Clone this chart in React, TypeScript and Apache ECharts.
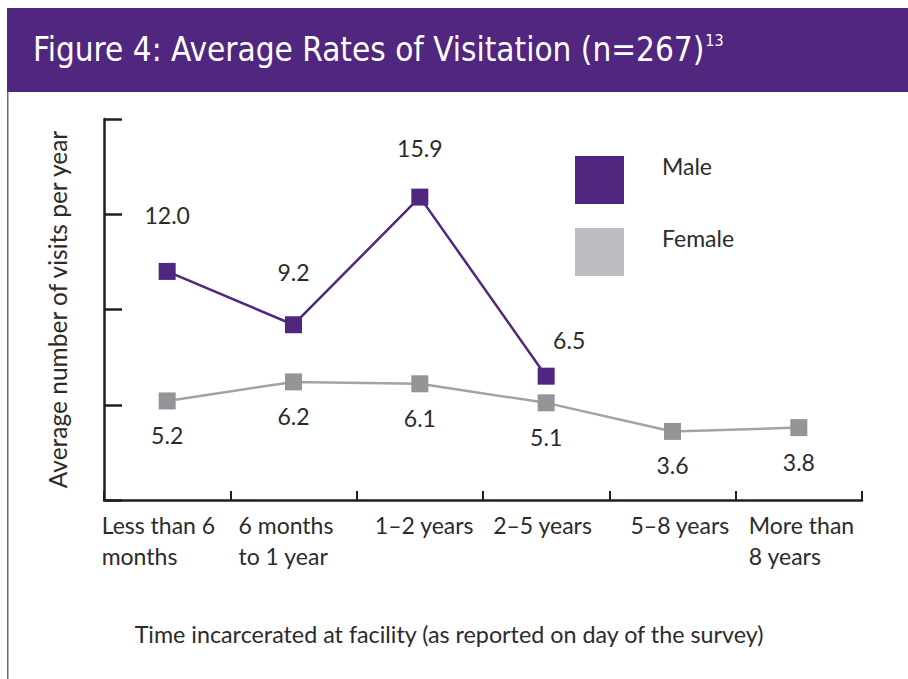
import React, { useEffect, useRef } from "react";
import * as echarts from "echarts";

const categories = [
  "Less than 6\nmonths",
  "6 months\nto 1 year",
  "1–2 years",
  "2–5 years",
  "5–8 years",
  "More than\n8 years",
];
const maleValues: (number | null)[] = [12.0, 9.2, 15.9, 6.5, null, null];
const femaleValues: number[] = [5.2, 6.2, 6.1, 5.1, 3.6, 3.8];
const seriesNames = ["Male", "Female"];
const titleText = "Figure 4: Average Rates of Visitation (n=267)";
const titleSup = "13";
const yAxisTitle = "Average number of visits per year";
const xAxisTitle = "Time incarcerated at facility (as reported on day of the survey)";

const PURPLE = "#51267F";
const GREY = "#939598";
const GREY_LINE = "#A2A3A6";
const GREY_LEGEND = "#BCBDC0";
const TEXT = "#2b2b2b";
const FONT = "Lato, 'Noto Sans', sans-serif";
const TITLE_FONT = "'Liberation Sans Narrow', 'DejaVu Sans Condensed', Lato, sans-serif";
const FS = 23;

// label offsets (styling only)
const maleLabelOffsets = [
  [0, -20],
  [0, -17],
  [0, -13],
  [23, 0],
  [0, 0],
  [0, 0],
];
// [content width, padding-left, padding-right] per x label (styling only)
const xLabelBoxes = [
  [117, 0, 14],
  [97, 0, 13],
  [98, 8, 0],
  [100, 0, 6],
  [98, 14, 0],
  [108, 8, 0],
];

export default function App() {
  const ref = useRef<HTMLDivElement>(null);
  useEffect(() => {
    document.body.style.margin = "0";
    const chart = echarts.init(ref.current!, null, { renderer: "svg" });
    const rich: Record<string, any> = {};
    xLabelBoxes.forEach((b, i) => {
      rich["l" + i] = {
        width: b[0],
        padding: [0, b[2], 0, b[1]],
        align: "left",
        fontSize: FS,
        fontFamily: FONT,
        color: TEXT,
        lineHeight: 31,
      };
    });
    const labelCommon = {
      show: true,
      fontSize: FS,
      color: TEXT,
      fontFamily: FONT,
      formatter: (p: any) => Number(p.value).toFixed(1),
    };
    chart.setOption({
      animation: false,
      backgroundColor: "#ffffff",
      textStyle: { fontFamily: FONT },
      graphic: [
        {
          type: "rect",
          shape: { x: 7, y: 8, width: 901, height: 84 },
          style: { fill: PURPLE },
        },
        {
          type: "rect",
          shape: { x: 7, y: 92, width: 1.5, height: 587 },
          style: { fill: "#7a5aa0" },
        },
        {
          type: "text",
          x: 33,
          y: 49,
          style: {
            text: `{m|${titleText}}{s|${titleSup}}`,
            verticalAlign: "middle",
            rich: {
              m: { fontSize: 33, fontFamily: TITLE_FONT, fill: "#ffffff", color: "#ffffff" },
              s: {
                fontSize: 16,
                fontFamily: TITLE_FONT,
                fill: "#ffffff",
                color: "#ffffff",
                verticalAlign: "top",
                padding: [0, 0, 0, 1],
              },
            },
          },
        },
      ],
      grid: { left: 104, right: 46, top: 119, bottom: 179 },
      legend: [
        {
          orient: "vertical",
          left: 575,
          top: 156,
          padding: 0,
          itemWidth: 49,
          itemHeight: 48,
          itemGap: 24,
          icon: "rect",
          selectedMode: false,
          formatter: () => "",
          data: [
            { name: seriesNames[0], itemStyle: { color: PURPLE } },
            { name: seriesNames[1], itemStyle: { color: GREY_LEGEND } },
          ],
        },
        {
          orient: "vertical",
          left: 657,
          top: 142,
          padding: 0,
          itemWidth: 0,
          itemHeight: 48,
          itemGap: 24,
          icon: "rect",
          selectedMode: false,
          data: [
            { name: seriesNames[0], itemStyle: { opacity: 0 } },
            { name: seriesNames[1], itemStyle: { opacity: 0 } },
          ],
          textStyle: { fontSize: FS, color: TEXT, fontFamily: FONT },
        },
      ],
      xAxis: {
        type: "category",
        data: categories,
        boundaryGap: true,
        axisLine: { lineStyle: { color: "#231f20", width: 2.5 } },
        axisTick: {
          show: true,
          inside: true,
          length: 9,
          lineStyle: { color: "#231f20", width: 2 },
        },
        axisLabel: {
          margin: 9,
          interval: 0,
          formatter: (v: string, i: number) =>
            v
              .split("\n")
              .map((s) => `{l${i}|${s}}`)
              .join("\n"),
          rich,
        },
        name: xAxisTitle,
        nameLocation: "middle",
        nameGap: 122,
        nameTextStyle: {
          fontSize: 23.3,
          color: TEXT,
          fontFamily: FONT,
          padding: [0, 68, 0, 0],
        },
      },
      yAxis: {
        type: "value",
        min: 0,
        max: 20,
        interval: 5,
        splitLine: { show: false },
        axisLine: { show: true, lineStyle: { color: "#231f20", width: 2.5 } },
        axisTick: {
          show: true,
          inside: true,
          length: 18,
          lineStyle: { color: "#231f20", width: 2.5 },
        },
        axisLabel: { show: false },
        name: yAxisTitle,
        nameLocation: "middle",
        nameGap: 34,
        nameTextStyle: { fontSize: 24.5, color: TEXT, fontFamily: FONT },
      },
      series: [
        {
          name: seriesNames[0],
          type: "line",
          data: maleValues.map((v, i) => ({
            value: v,
            label: { offset: maleLabelOffsets[i] },
          })),
          symbol: "rect",
          symbolSize: 17,
          itemStyle: { color: PURPLE },
          lineStyle: { color: PURPLE, width: 2.5 },
          label: { ...labelCommon, position: "top", distance: 16 },
        },
        {
          name: seriesNames[1],
          type: "line",
          data: femaleValues,
          symbol: "rect",
          symbolSize: 17,
          itemStyle: { color: GREY },
          lineStyle: { color: GREY_LINE, width: 2.5 },
          label: { ...labelCommon, position: "bottom", distance: 14 },
        },
      ],
    });
    return () => chart.dispose();
  }, []);
  return <div ref={ref} style={{ width: 908, height: 679 }} />;
}
